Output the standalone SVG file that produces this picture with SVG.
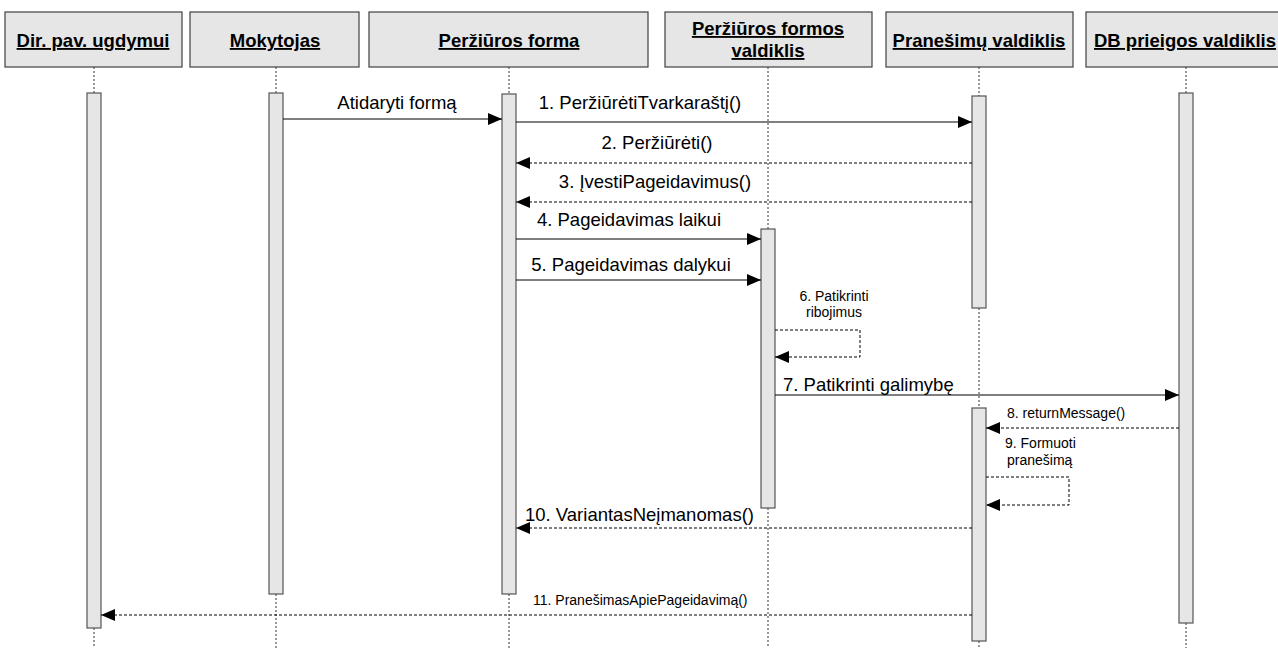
<svg xmlns="http://www.w3.org/2000/svg" width="1278" height="648" viewBox="0 0 1278 648">
<style>
.hdr{fill:#e6e6e6;stroke:#404040;stroke-width:1.2}
.ht{font-family:"Liberation Sans",Arial,sans-serif;font-size:18.5px;font-weight:bold;text-decoration:underline;fill:#000;text-anchor:middle}
.life{stroke:#333;stroke-width:1;stroke-dasharray:2,2;fill:none}
.act{fill:#e6e6e6;stroke:#555;stroke-width:1.2}
.msg{stroke:#000;stroke-width:1;fill:none}
.ret{stroke:#000;stroke-width:1;fill:none;stroke-dasharray:3,2}
.lbl{font-family:"Liberation Sans",Arial,sans-serif;font-size:18.5px;fill:#000}
.sm{font-family:"Liberation Sans",Arial,sans-serif;font-size:14px;fill:#000}
</style>
<defs>
<marker id="ah" markerUnits="userSpaceOnUse" markerWidth="16" markerHeight="12" refX="14" refY="6" orient="auto">
<path d="M0,0 L14,6 L0,12 z" fill="#000"/>
</marker>
</defs>
<rect width="1278" height="648" fill="#fff"/>

<g id="lifelines">
<line class="life" x1="94" y1="67" x2="94" y2="93"/>
<line class="life" x1="94" y1="628" x2="94" y2="648"/>
<line class="life" x1="276" y1="67" x2="276" y2="93"/>
<line class="life" x1="276" y1="594" x2="276" y2="648"/>
<line class="life" x1="509" y1="67" x2="509" y2="94"/>
<line class="life" x1="509" y1="594" x2="509" y2="648"/>
<line class="life" x1="768" y1="67" x2="768" y2="229"/>
<line class="life" x1="768" y1="508" x2="768" y2="648"/>
<line class="life" x1="979" y1="67" x2="979" y2="96"/>
<line class="life" x1="979" y1="308" x2="979" y2="408"/>
<line class="life" x1="979" y1="641" x2="979" y2="648"/>
<line class="life" x1="1186" y1="67" x2="1186" y2="93"/>
<line class="life" x1="1186" y1="623" x2="1186" y2="648"/>
</g>

<g id="n-dir">
<rect class="hdr" x="5" y="12" width="177" height="55"/>
<text class="ht" x="93" y="47">Dir. pav. ugdymui</text>
<rect class="act" x="87" y="93" width="14" height="535"/>
</g>
<g id="n-mokytojas">
<rect class="hdr" x="190" y="12" width="169" height="55"/>
<text class="ht" x="275" y="47">Mokytojas</text>
<rect class="act" x="269" y="93" width="14" height="501"/>
</g>
<g id="n-forma">
<rect class="hdr" x="369" y="12" width="279" height="55"/>
<text class="ht" x="509" y="47">Peržiūros forma</text>
<rect class="act" x="502" y="94" width="14" height="500"/>
</g>
<g id="n-formos-valdiklis">
<rect class="hdr" x="665" y="12" width="207" height="55"/>
<text class="ht" x="768" y="35">Peržiūros formos</text>
<text class="ht" x="768" y="57">valdiklis</text>
<rect class="act" x="761" y="229" width="14" height="279"/>
</g>
<g id="n-pranesimu">
<rect class="hdr" x="886" y="12" width="187" height="55"/>
<text class="ht" x="979" y="47">Pranešimų valdiklis</text>
<rect class="act" x="972" y="96" width="14" height="212"/>
<rect class="act" x="972" y="408" width="14" height="233"/>
</g>
<g id="n-db">
<rect class="hdr" x="1086" y="12" width="205" height="55"/>
<text class="ht" x="1185" y="47">DB prieigos valdiklis</text>
<rect class="act" x="1179" y="93" width="14" height="530"/>
</g>

<g id="connectors">
<line class="msg" x1="283" y1="119" x2="502" y2="119" marker-end="url(#ah)"/>
<line class="msg" x1="516" y1="122" x2="972" y2="122" marker-end="url(#ah)"/>
<line class="ret" x1="972" y1="163" x2="516" y2="163" marker-end="url(#ah)"/>
<line class="ret" x1="972" y1="202" x2="516" y2="202" marker-end="url(#ah)"/>
<line class="msg" x1="516" y1="239" x2="761" y2="239" marker-end="url(#ah)"/>
<line class="msg" x1="516" y1="280" x2="761" y2="280" marker-end="url(#ah)"/>
<polyline class="ret" points="775,330 860,330 860,357 775,357" marker-end="url(#ah)"/>
<line class="msg" x1="775" y1="395" x2="1179" y2="395" marker-end="url(#ah)"/>
<line class="ret" x1="1179" y1="428" x2="986" y2="428" marker-end="url(#ah)"/>
<polyline class="ret" points="986,477 1069,477 1069,505 986,505" marker-end="url(#ah)"/>
<line class="ret" x1="972" y1="528" x2="516" y2="528" marker-end="url(#ah)"/>
<line class="ret" x1="972" y1="615" x2="101" y2="615" marker-end="url(#ah)"/>
</g>

<g id="labels">
<text class="lbl" x="397" y="109" text-anchor="middle">Atidaryti formą</text>
<text class="lbl" x="640" y="109" text-anchor="middle">1. PeržiūrėtiTvarkaraštį()</text>
<text class="lbl" x="657" y="149" text-anchor="middle">2. Peržiūrėti()</text>
<text class="lbl" x="655" y="188" text-anchor="middle">3. ĮvestiPageidavimus()</text>
<text class="lbl" x="629" y="226" text-anchor="middle">4. Pageidavimas laikui</text>
<text class="lbl" x="631" y="271" text-anchor="middle">5. Pageidavimas dalykui</text>
<text class="sm" x="834" y="301" text-anchor="middle">6. Patikrinti</text>
<text class="sm" x="834" y="317" text-anchor="middle">ribojimus</text>
<text class="lbl" x="783" y="391">7. Patikrinti galimybę</text>
<text class="sm" x="1007" y="418">8. returnMessage()</text>
<text class="sm" x="1005" y="448">9. Formuoti</text>
<text class="sm" x="1007" y="465">pranešimą</text>
<text class="lbl" x="525" y="521">10. VariantasNeįmanomas()</text>
<text class="sm" x="533" y="605">11. PranešimasApiePageidavimą()</text>
</g>
</svg>
